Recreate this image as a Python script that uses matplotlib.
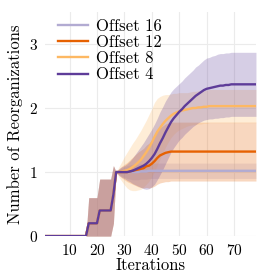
import numpy as np
import matplotlib
matplotlib.use("Agg")
import matplotlib.pyplot as plt

plt.rcParams['font.family'] = 'serif'
plt.rcParams['font.serif'] = ['cmr10']
plt.rcParams['axes.formatter.use_mathtext'] = True

iterations = np.arange(1, 79)

# shared start (iterations 1..26)
start_mean = [0]*16 + [0.2]*4 + [0.4]*5 + [0.65]
start_std = [0]*16 + [0.4]*4 + [0.49]*5 + [0.45]

# iterations 27..78
mean_16 = [1.00]*9 + [1.01]*3 + [1.02]*40
std_16 = [0, 0.03, 0.06, 0.08, 0.10, 0.11] + [0.12]*46

mean_12 = [1.00, 1.00, 1.00, 1.00, 1.00, 1.01, 1.02, 1.03, 1.04, 1.05, 1.06,
           1.09, 1.10, 1.13, 1.17, 1.22, 1.26, 1.28, 1.30, 1.31, 1.32] + [1.32]*31
std_12 = [0, 0.05, 0.09, 0.12, 0.15, 0.18, 0.21, 0.24, 0.27, 0.29, 0.31, 0.33,
          0.35, 0.37, 0.39, 0.41, 0.43, 0.44, 0.45, 0.46] + [0.46]*32

mean_8 = [1.00, 1.00, 1.01, 1.02, 1.03, 1.05, 1.08, 1.11, 1.15, 1.19, 1.25, 1.31,
          1.38, 1.46, 1.55, 1.63, 1.69, 1.75, 1.80, 1.84, 1.88, 1.91, 1.93, 1.95,
          1.96, 1.97, 1.98, 1.99, 2.00, 2.00, 2.01, 2.01, 2.02, 2.02] + [2.03]*18
std_8 = [0, 0.08, 0.15, 0.22, 0.28, 0.33, 0.37, 0.40, 0.43, 0.46, 0.48, 0.50,
         0.52, 0.53, 0.54, 0.52, 0.49, 0.45, 0.41, 0.37, 0.34, 0.32, 0.30, 0.29,
         0.28, 0.27] + [0.26]*26

mean_4 = [1.00, 1.00, 1.00, 1.00, 1.00, 1.01, 1.02, 1.04, 1.06, 1.08, 1.10, 1.13,
          1.17, 1.22, 1.28, 1.36, 1.45, 1.53, 1.62, 1.70, 1.78, 1.84, 1.89, 1.94,
          1.98, 2.03, 2.07, 2.11, 2.15, 2.19, 2.22, 2.25, 2.28, 2.30, 2.31, 2.32,
          2.33, 2.34, 2.35, 2.35, 2.36, 2.36, 2.37] + [2.37]*9
std_4 = [0, 0.05, 0.08, 0.10, 0.13, 0.16, 0.20, 0.24, 0.28, 0.32, 0.36, 0.40,
         0.43, 0.45, 0.47, 0.48, 0.49, 0.49, 0.49, 0.48, 0.47, 0.46, 0.45, 0.44,
         0.44, 0.44, 0.44, 0.44, 0.44, 0.45, 0.45, 0.46, 0.47, 0.48, 0.48, 0.49,
         0.49, 0.50] + [0.50]*14

labels = ['Offset 16', 'Offset 12', 'Offset 8', 'Offset 4']
colors = ['#b2abd2', '#e66101', '#fdb863', '#5e3c99']
means = [mean_16, mean_12, mean_8, mean_4]
stds = [std_16, std_12, std_8, std_4]

fig = plt.figure(figsize=(2.72, 2.72), dpi=100)
ax = fig.add_axes([0.165, 0.132, 0.776, 0.824])

for lab, col, m, s in zip(labels, colors, means, stds):
    m = np.array(start_mean + m)
    s = np.array(start_std + s)
    ax.fill_between(iterations, np.maximum(m - s, 0), m + s, color=col, alpha=0.25, lw=0)
    ax.plot(iterations, m, color=col, lw=1.7, label=lab)

ax.set_xlim(1, 78)
ax.set_ylim(0, 3.5)
ax.set_xticks([10, 20, 30, 40, 50, 60, 70])
ax.set_yticks([0, 1, 2, 3])
ax.grid(True, color='#ebebeb', lw=0.8)
ax.set_axisbelow(True)
for sp in ax.spines.values():
    sp.set_visible(False)
ax.tick_params(length=0, labelsize=11, pad=5)
ax.set_xlabel('Iterations', fontsize=12, labelpad=0)
ax.set_ylabel('Number of Reorganizations', fontsize=12, labelpad=4)
ax.legend(loc='upper left', frameon=False, fontsize=12, handlelength=1.8,
          handletextpad=0.5, borderaxespad=0.0, labelspacing=0.05,
          bbox_to_anchor=(0.03, 1.0))

plt.savefig('out.png', dpi=100)
